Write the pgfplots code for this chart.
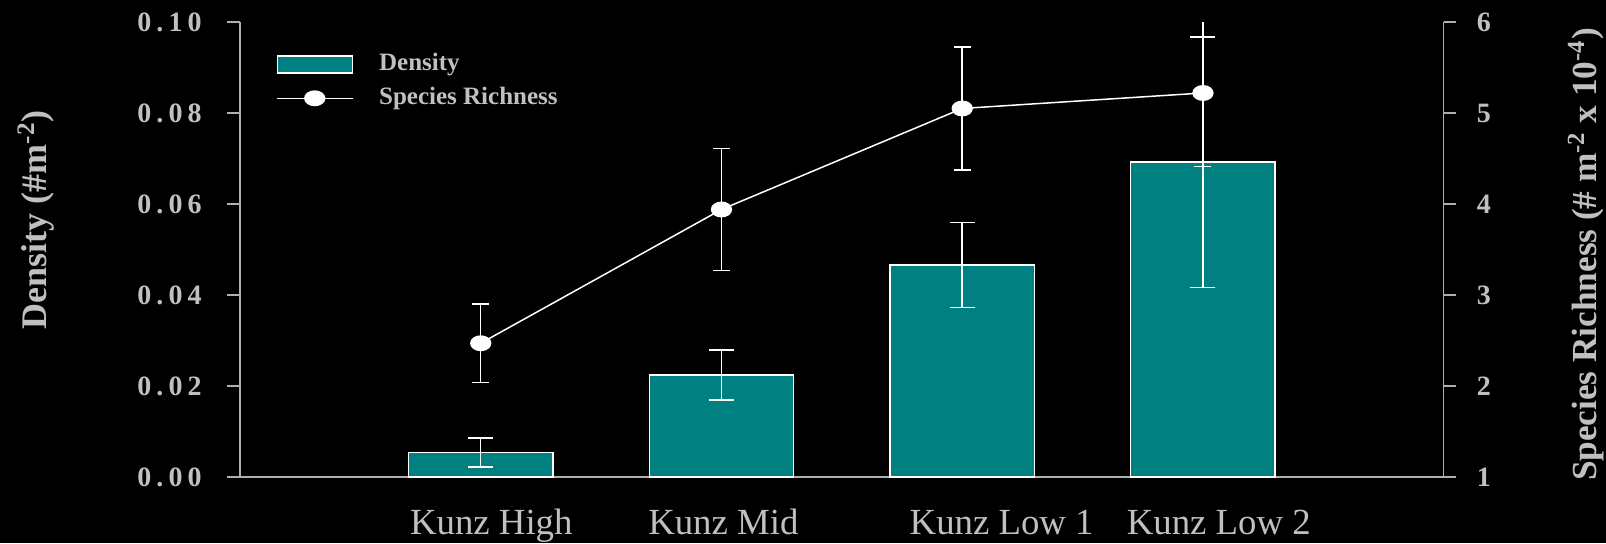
\documentclass[border=0pt]{standalone}
\usepackage{pgfplots}
\pgfplotsset{compat=1.18}
\usepackage{fontspec}
\setmainfont{Liberation Serif}

\definecolor{barteal}{RGB}{0,128,128}
\definecolor{txtgray}{RGB}{192,192,192}
\definecolor{axisgray}{RGB}{175,175,175}

% spaced tick numbers for the density axis
\newcommand{\tk}[3]{#1\kern.18em.\kern.18em#2\kern.18em#3}

% legend pictograms
\pgfplotsset{
  barlegend/.style={legend image code/.code={%
    \draw[##1] (0.375pt,-4.2pt) rectangle (37.8pt,4.2pt);}},
  linelegend/.style={legend image code/.code={%
    \draw[##1, mark repeat=2, mark phase=2]
      plot coordinates {(0pt,0pt) (19pt,0pt) (38pt,0pt)};}},
}

\begin{document}
\begin{tikzpicture}
% page background
\fill[black] (-120pt,-33pt) rectangle (683pt,238.5pt);

% density (bars, left axis)
\begin{axis}[
  at={(0pt,0pt)}, anchor=south west,
  scale only axis, width=601.85pt, height=227.5pt,
  xmin=0, xmax=5, ymin=0, ymax=0.1,
  axis x line*=bottom, axis y line*=left,
  axis line style={axisgray, line width=0.75pt},
  tick align=outside, major tick length=6.35pt,
  xtick={1.044,2.008,3.164,4.066},
  xticklabels={Kunz High, Kunz Mid, Kunz Low 1, Kunz Low 2},
  x tick style={draw=none},
  xticklabel style={anchor=base, inner sep=0pt, yshift=-22.3pt,
    font=\fontsize{18.4}{21}\selectfont, text=txtgray},
  ytick={0,0.02,0.04,0.06,0.08,0.1},
  yticklabels={\tk000,\tk002,\tk004,\tk006,\tk008,\tk010},
  y tick style={axisgray, line width=0.75pt},
  yticklabel style={anchor=east, inner sep=0pt, xshift=-12.65pt,
    font=\bfseries\fontsize{14}{16}\selectfont, text=txtgray},
  ylabel={Density (\#m\textsuperscript{-2})},
  ylabel style={at={(axis description cs:-0.1606,0.5655)}, anchor=base,
    rotate=0, inner sep=0pt,
    font=\bfseries\fontsize{18}{21}\selectfont, text=txtgray},
]
\addplot[ybar, bar width=0.6, fill=barteal, draw=white, line width=0.75pt,
  error bars/.cd, y dir=both, y explicit,
  error bar style={white, line width=0.75pt},
  error mark options={rotate=90, mark size=6.25pt, white, line width=0.75pt}]
  coordinates {
    (1,0.0054) +- (0,0.0032)
    (2,0.0224) +- (0,0.0055)
    (3,0.0466) +- (0,0.0093)
    (4,0.0692) +- (0,0.0275)
  };
\end{axis}

% species richness (line, right axis)
\begin{axis}[
  at={(0pt,0pt)}, anchor=south west,
  scale only axis, width=601.85pt, height=227.5pt,
  xmin=0, xmax=5, ymin=1, ymax=6,
  axis x line=none, axis y line*=right,
  axis line style={axisgray, line width=0.75pt},
  tick align=outside, major tick length=6.35pt,
  ytick={1,2,3,4,5,6},
  yticklabels={1,2,3,4,5,6},
  y tick style={axisgray, line width=0.75pt},
  yticklabel style={anchor=west, inner sep=0pt, xshift=10.05pt,
    font=\bfseries\fontsize{14}{16}\selectfont, text=txtgray},
  ylabel={Species Richness (\# m\textsuperscript{-2} x 10\textsuperscript{-4})},
  ylabel style={at={(axis description cs:1.127,0.489)}, anchor=base,
    rotate=0, inner sep=0pt,
    font=\bfseries\fontsize{17.6}{21}\selectfont, text=txtgray},
  legend style={at={(axis description cs:0.0299,0.933)}, anchor=north west,
    draw=none, fill=none, inner sep=0pt, outer sep=0pt,
    column sep=12.85pt, row sep=4.9pt,
    nodes={inner sep=0pt, text height=9pt, text depth=3pt},
    font=\bfseries\fontsize{12.5}{15}\selectfont, text=txtgray},
  legend cell align=left,
]
\addlegendimage{fill=barteal, draw=white, line width=0.75pt, barlegend}
\addlegendentry{Density}
\addplot[white, line width=0.75pt, mark=*, mark size=3.6pt,
  mark options={xscale=1.375, fill=white, draw=white}, linelegend,
  error bars/.cd, y dir=both, y explicit,
  error bar style={white, line width=0.75pt},
  error mark options={rotate=90, mark size=4.25pt, white, line width=0.75pt}]
  coordinates {
    (1,2.47) +- (0,0.43)
    (2,3.94) +- (0,0.67)
    (3,5.05) +- (0,0.675)
    (4,5.22) +- (0,0.81)
  };
\addlegendentry{Species Richness}
\end{axis}

\pgfresetboundingbox
\path[use as bounding box] (-120pt,-33pt) rectangle (683pt,238.5pt);
\end{tikzpicture}
\end{document}
